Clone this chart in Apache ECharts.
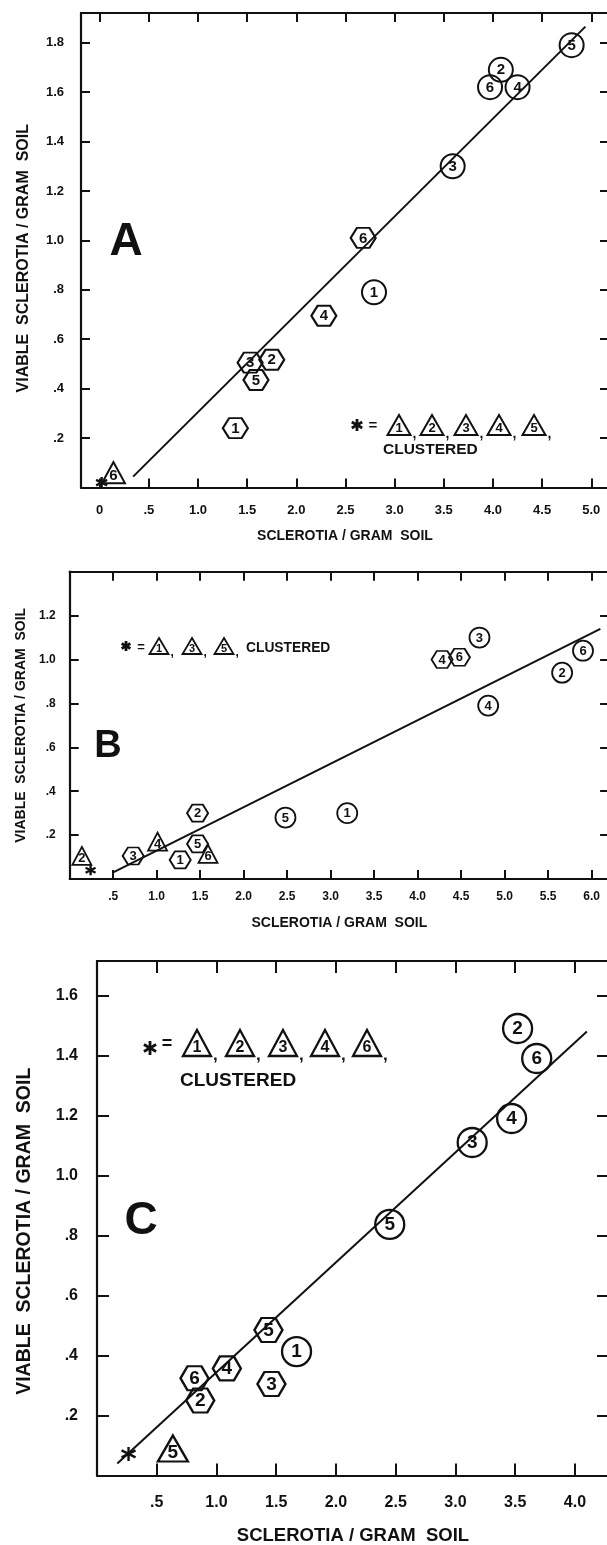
<!DOCTYPE html>
<html><head><meta charset="utf-8">
<script src="https://cdn.jsdelivr.net/npm/echarts@6/dist/echarts.min.js"></script>
<style>html,body{margin:0;padding:0;background:#fff}#c{width:607px;height:1545px}</style>
</head><body><div id="c"></div>
<script>
// ---------------- DATA ----------------
// Panel A
const A_xTicks = [0, 0.5, 1.0, 1.5, 2.0, 2.5, 3.0, 3.5, 4.0, 4.5, 5.0];
const A_xLabels = ['0', '.5', '1.0', '1.5', '2.0', '2.5', '3.0', '3.5', '4.0', '4.5', '5.0'];
const A_yTicks = [0.2, 0.4, 0.6, 0.8, 1.0, 1.2, 1.4, 1.6, 1.8];
const A_yLabels = ['.2', '.4', '.6', '.8', '1.0', '1.2', '1.4', '1.6', '1.8'];
const A_circles = [[4.80, 1.79, 5], [4.08, 1.69, 2], [3.97, 1.62, 6], [4.25, 1.62, 4], [3.59, 1.30, 3], [2.79, 0.79, 1]];
const A_hexagons = [[2.68, 1.01, 6], [2.28, 0.695, 4], [1.75, 0.517, 2], [1.53, 0.505, 3], [1.59, 0.435, 5], [1.38, 0.24, 1]];
const A_triangles = [[0.14, 0.06, 6]];
const A_cluster = [[0.02, 0.02]];
const A_clusterIds = [1, 2, 3, 4, 5];
const A_fit = [[0.34, 0.044], [4.94, 1.865]];

// Panel B
const B_xTicks = [0.5, 1.0, 1.5, 2.0, 2.5, 3.0, 3.5, 4.0, 4.5, 5.0, 5.5, 6.0];
const B_xLabels = ['.5', '1.0', '1.5', '2.0', '2.5', '3.0', '3.5', '4.0', '4.5', '5.0', '5.5', '6.0'];
const B_yTicks = [0.2, 0.4, 0.6, 0.8, 1.0, 1.2];
const B_yLabels = ['.2', '.4', '.6', '.8', '1.0', '1.2'];
const B_circles = [[2.48, 0.28, 5], [3.19, 0.30, 1], [4.71, 1.10, 3], [4.81, 0.79, 4], [5.66, 0.94, 2], [5.90, 1.04, 6]];
const B_hexagons = [[0.73, 0.105, 3], [1.27, 0.087, 1], [1.47, 0.30, 2], [1.47, 0.16, 5], [4.28, 1.00, 4], [4.48, 1.01, 6]];
const B_triangles = [[0.14, 0.105, 2], [1.01, 0.17, 4], [1.59, 0.114, 6]];
const B_cluster = [[0.24, 0.04]];
const B_clusterIds = [1, 3, 5];
const B_fit = [[0.5, 0.03], [6.10, 1.14]];

// Panel C
const C_xTicks = [0.5, 1.0, 1.5, 2.0, 2.5, 3.0, 3.5, 4.0];
const C_xLabels = ['.5', '1.0', '1.5', '2.0', '2.5', '3.0', '3.5', '4.0'];
const C_yTicks = [0.2, 0.4, 0.6, 0.8, 1.0, 1.2, 1.4, 1.6];
const C_yLabels = ['.2', '.4', '.6', '.8', '1.0', '1.2', '1.4', '1.6'];
const C_circles = [[3.52, 1.49, 2], [3.68, 1.39, 6], [3.47, 1.19, 4], [3.14, 1.11, 3], [2.45, 0.837, 5], [1.67, 0.413, 1]];
const C_hexagons = [[1.435, 0.485, 5], [1.087, 0.357, 4], [0.816, 0.324, 6], [0.864, 0.25, 2], [1.46, 0.305, 3]];
const C_triangles = [[0.635, 0.09, 5]];
const C_cluster = [[0.264, 0.072]];
const C_clusterIds = [1, 2, 3, 4, 6];
const C_fit = [[0.17, 0.04], [4.10, 1.48]];

const X_TITLE = 'SCLEROTIA / GRAM  SOIL';
const Y_TITLE = 'VIABLE  SCLEROTIA / GRAM  SOIL';

// ---------------- STYLE ----------------
const INK = '#111111';
const FONT = "'Liberation Sans', Arial, sans-serif";
const HEX = 'path://M0,10 L5,0 L15,0 L20,10 L15,20 L5,20 Z';
const STAR = 'path://M5,0 L5,10 M0.67,2.5 L9.33,7.5 M0.67,7.5 L9.33,2.5';

const panels = [
  { letter: 'A', grid: { left: 81, top: 13, width: 528, height: 474.5 },
    xMin: -0.19, xMax: 5.18, yMin: 0, yMax: 1.92,
    xTicks: A_xTicks, xLabels: A_xLabels, yTicks: A_yTicks, yLabels: A_yLabels,
    circles: A_circles, hexagons: A_hexagons, triangles: A_triangles, cluster: A_cluster, fit: A_fit,
    lblSize: 13, xMargin: 16, yMargin: 17, tickLen: 9, xNameSize: 14, yNameSize: 16, xNameGap: 42, yNameGap: 49, yShift: 16,
    circ: 24, hex: [25, 20], tri: [23, 21], num: 15, bw: 2, star: 11,
    letterPos: [126, 242], letterSize: 46,
    legend: { ids: A_clusterIds, star: [357, 425, 12], eq: 373, triX: [399, 432, 466, 499, 534], triY: 425, triW: 23, triH: 20, num: 13, cl: [383, 450], clSize: 15.5 }
  },
  { letter: 'B', grid: { left: 69.7, top: 571.7, width: 539.4, height: 307.3 },
    xMin: 0, xMax: 6.2, yMin: 0, yMax: 1.40,
    xTicks: B_xTicks, xLabels: B_xLabels, yTicks: B_yTicks, yLabels: B_yLabels,
    circles: B_circles, hexagons: B_hexagons, triangles: B_triangles, cluster: B_cluster, fit: B_fit,
    lblSize: 12, xMargin: 12, yMargin: 14, tickLen: 9, xNameSize: 14, yNameSize: 14, xNameGap: 37, yNameGap: 41, yShift: 0,
    circ: 20, hex: [21, 17], tri: [19, 18], num: 13, bw: 1.8, star: 10,
    letterPos: [108, 747], letterSize: 38,
    legend: { ids: B_clusterIds, star: [126, 646, 10], eq: 141, triX: [159, 192, 224], triY: 646, triW: 19, triH: 16, num: 11, cl: [246, 648], clSize: 13.8 }
  },
  { letter: 'C', grid: { left: 97, top: 961, width: 512, height: 514.5 },
    xMin: 0, xMax: 4.285, yMin: 0, yMax: 1.715,
    xTicks: C_xTicks, xLabels: C_xLabels, yTicks: C_yTicks, yLabels: C_yLabels,
    circles: C_circles, hexagons: C_hexagons, triangles: C_triangles, cluster: C_cluster, fit: C_fit,
    lblSize: 16, xMargin: 19, yMargin: 19, tickLen: 12, xNameSize: 18.5, yNameSize: 19.5, xNameGap: 51, yNameGap: 62, yShift: 26,
    circ: 29, hex: [28, 24], tri: [30, 26], num: 19, bw: 2.3, star: 14,
    letterPos: [141, 1221], letterSize: 46,
    legend: { ids: C_clusterIds, star: [150, 1048, 14], eq: 167, triX: [197, 240, 283, 325, 367], triY: 1043, triW: 28, triH: 26, num: 16, cl: [180, 1081], clSize: 19 }
  }
];

function fmt(ticks, labels) {
  return function (v) {
    const i = ticks.findIndex(t => Math.abs(t - v) < 1e-6);
    return i >= 0 ? labels[i] : '';
  };
}

const grids = [], xAxes = [], yAxes = [], series = [], graphics = [];

panels.forEach((p, k) => {
  grids.push(Object.assign({ outerBoundsMode: 'none', containLabel: false, show: false }, p.grid));
  const line = { show: true, onZero: false, lineStyle: { color: INK, width: 2.2 } };
  const tick = (vals) => ({ show: true, inside: true, length: p.tickLen, customValues: vals, lineStyle: { color: INK, width: 2 } });
  const lab = (vals, labels, margin) => ({ show: true, customValues: vals, formatter: fmt(vals, labels), margin: margin,
    fontSize: p.lblSize, fontWeight: 'bold', fontFamily: FONT, color: INK });
  xAxes.push({ gridIndex: k, type: 'value', min: p.xMin, max: p.xMax, position: 'bottom',
    axisLine: line, axisTick: tick(p.xTicks), axisLabel: lab(p.xTicks, p.xLabels, p.xMargin), splitLine: { show: false },
    name: X_TITLE, nameLocation: 'middle', nameGap: p.xNameGap,
    nameTextStyle: { fontSize: p.xNameSize, fontWeight: 'bold', fontFamily: FONT, color: INK } });
  xAxes.push({ gridIndex: k, type: 'value', min: p.xMin, max: p.xMax, position: 'top',
    axisLine: line, axisTick: tick(p.xTicks), axisLabel: { show: false }, splitLine: { show: false } });
  yAxes.push({ gridIndex: k, type: 'value', min: p.yMin, max: p.yMax, position: 'left',
    axisLine: line, axisTick: tick(p.yTicks), axisLabel: lab(p.yTicks, p.yLabels, p.yMargin), splitLine: { show: false },
    name: Y_TITLE, nameLocation: 'middle', nameGap: p.yNameGap,
    nameTextStyle: { fontSize: p.yNameSize, fontWeight: 'bold', fontFamily: FONT, color: INK, padding: [0, p.yShift, 0, 0] } });
  yAxes.push({ gridIndex: k, type: 'value', min: p.yMin, max: p.yMax, position: 'right',
    axisLine: line, axisTick: tick(p.yTicks), axisLabel: { show: false }, splitLine: { show: false } });

  const xi = 2 * k, yi = 2 * k;
  const item = { color: 'rgba(0,0,0,0)', borderColor: INK, borderWidth: p.bw, opacity: 1 };
  const numLabel = (off) => ({ show: true, position: 'inside', formatter: q => String(q.value[2]),
    fontSize: p.num, fontWeight: 'bold', fontFamily: FONT, color: INK, offset: off });
  series.push({ type: 'line', xAxisIndex: xi, yAxisIndex: yi, data: p.fit, symbol: 'none', silent: true,
    lineStyle: { color: INK, width: 2 }, z: 1 });
  series.push({ type: 'scatter', name: p.letter + ' circles', xAxisIndex: xi, yAxisIndex: yi, data: p.circles,
    symbol: 'circle', symbolSize: p.circ, itemStyle: item, label: numLabel([0, 0.5]), z: 3 });
  series.push({ type: 'scatter', name: p.letter + ' hexagons', xAxisIndex: xi, yAxisIndex: yi, data: p.hexagons,
    symbol: HEX, symbolSize: p.hex, itemStyle: item, label: numLabel([0, 0.5]), z: 3 });
  series.push({ type: 'scatter', name: p.letter + ' triangles', xAxisIndex: xi, yAxisIndex: yi, data: p.triangles,
    symbol: 'triangle', symbolSize: p.tri, itemStyle: item, label: numLabel([0, p.tri[1] * 0.15]), z: 3 });
  series.push({ type: 'scatter', name: p.letter + ' clustered', xAxisIndex: xi, yAxisIndex: yi, data: p.cluster,
    symbol: STAR, symbolSize: p.star, itemStyle: { color: 'rgba(0,0,0,0)', borderColor: INK, borderWidth: 2.4, opacity: 1 }, z: 3 });

  // panel letter
  graphics.push({ type: 'text', x: p.letterPos[0], y: p.letterPos[1],
    style: { text: p.letter, fill: INK, font: '900 ' + p.letterSize + 'px ' + FONT,
      textAlign: 'center', textVerticalAlign: 'middle', align: 'center', verticalAlign: 'middle' } });

  // legend "* = triangles, CLUSTERED"
  const L = p.legend;
  const [sx, sy, ss] = L.star;
  const r = ss / 2;
  [[0, -r, 0, r], [-r * 0.87, -r * 0.5, r * 0.87, r * 0.5], [-r * 0.87, r * 0.5, r * 0.87, -r * 0.5]].forEach(s => {
    graphics.push({ type: 'line', shape: { x1: sx + s[0], y1: sy + s[1], x2: sx + s[2], y2: sy + s[3] },
      style: { stroke: INK, lineWidth: 2.8 } });
  });
  graphics.push({ type: 'text', x: L.eq, y: L.triY + 1,
    style: { text: '=', fill: INK, font: 'bold ' + (L.num + 2) + 'px ' + FONT,
      textAlign: 'center', textVerticalAlign: 'middle', align: 'center', verticalAlign: 'middle' } });
  L.ids.forEach((id, i) => {
    const cx = L.triX[i], cy = L.triY, w = L.triW, h = L.triH;
    graphics.push({ type: 'polygon', shape: { points: [[cx, cy - h / 2], [cx + w / 2, cy + h / 2], [cx - w / 2, cy + h / 2]] },
      style: { fill: 'none', stroke: INK, lineWidth: p.bw } });
    graphics.push({ type: 'text', x: cx, y: cy + h * 0.16,
      style: { text: String(id), fill: INK, font: 'bold ' + L.num + 'px ' + FONT,
        textAlign: 'center', textVerticalAlign: 'middle', align: 'center', verticalAlign: 'middle' } });
    graphics.push({ type: 'text', x: cx + w / 2 + 2, y: cy + h / 2 - 1,
      style: { text: ',', fill: INK, font: 'bold ' + (L.num + 1) + 'px ' + FONT,
        textAlign: 'left', textVerticalAlign: 'middle', align: 'left', verticalAlign: 'middle' } });
  });
  graphics.push({ type: 'text', x: L.cl[0], y: L.cl[1],
    style: { text: 'CLUSTERED', fill: INK, font: 'bold ' + L.clSize + 'px ' + FONT,
      textAlign: 'left', textVerticalAlign: 'middle', align: 'left', verticalAlign: 'middle' } });
});

const chart = echarts.init(document.getElementById('c'), null, { renderer: 'canvas' });
chart.setOption({
  backgroundColor: '#ffffff',
  animation: false,
  grid: grids,
  xAxis: xAxes,
  yAxis: yAxes,
  series: series,
  graphic: { elements: graphics }
});
</script>
</body></html>
